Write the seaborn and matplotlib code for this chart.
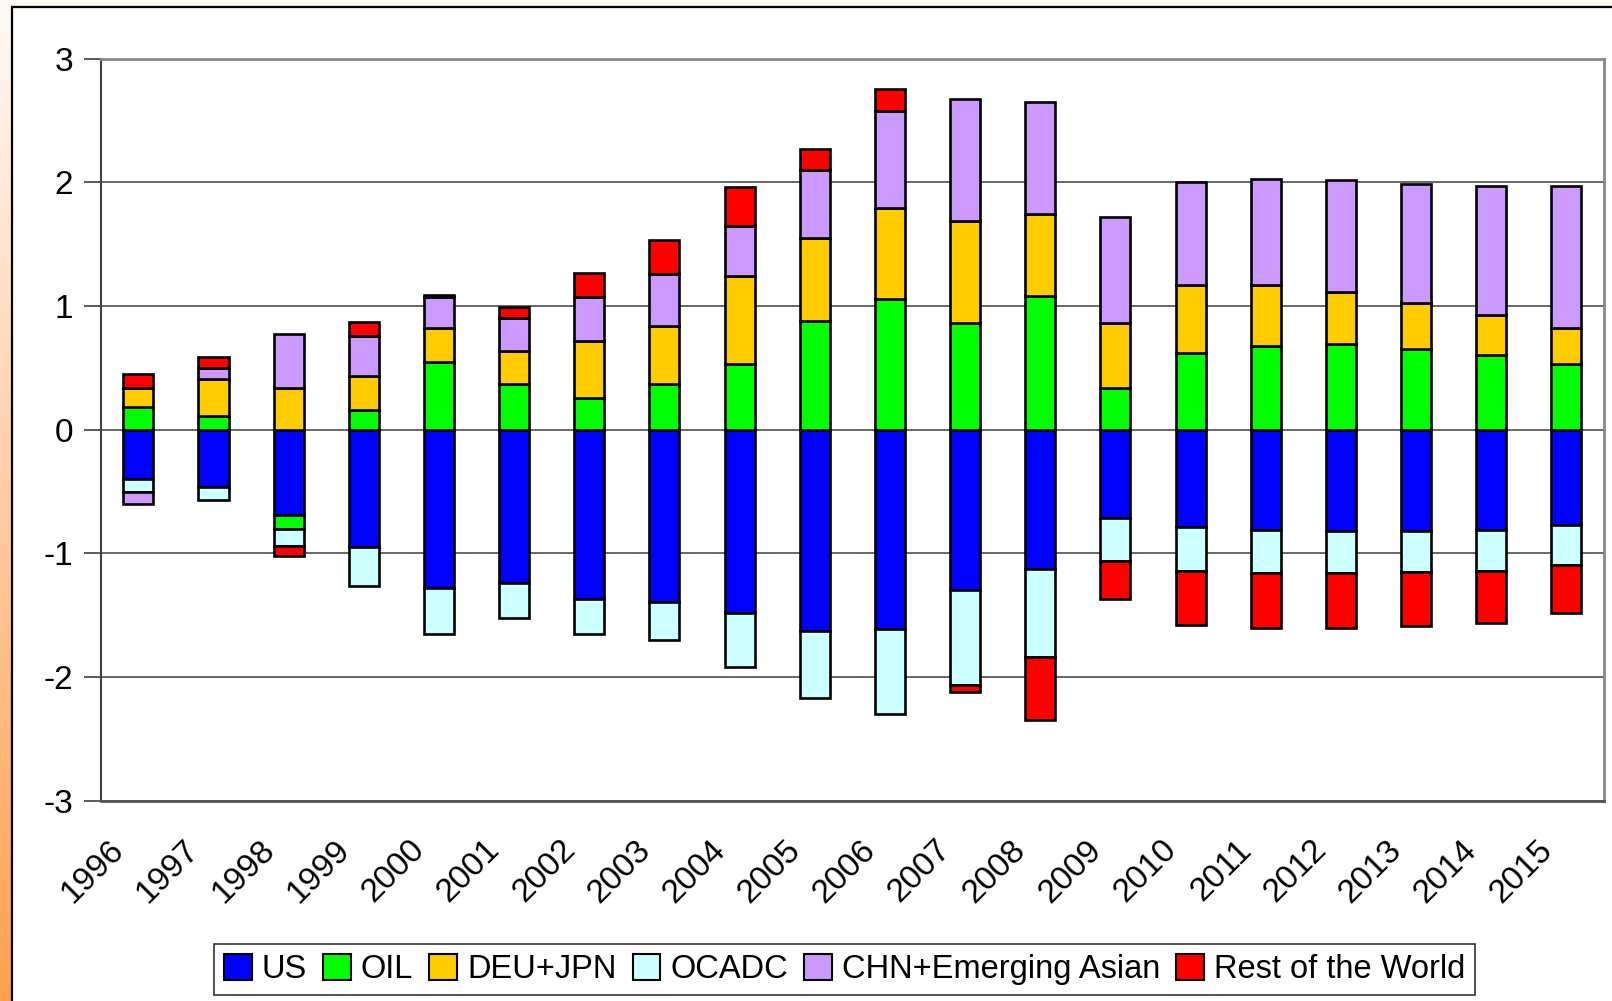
import matplotlib.pyplot as plt
import matplotlib.transforms as mtransforms
import numpy as np
import seaborn as sns
import pandas as pd
from matplotlib.patches import Rectangle, Patch


years = [str(y) for y in range(1996, 2016)]
names = ['US', 'OIL', 'DEU+JPN', 'OCADC', 'CHN+Emerging Asian', 'Rest of the World']
colors = ['#0000FF', '#00FF00', '#FFCC00', '#CCFFFF', '#CC99FF', '#FF0000']

# values (one per year, sign = side of zero)
us = [-0.40, -0.46, -0.69, -0.95, -1.28, -1.24, -1.37, -1.39, -1.48, -1.63,
      -1.61, -1.30, -1.13, -0.71, -0.79, -0.81, -0.82, -0.82, -0.81, -0.77]
oil = [0.18, 0.11, -0.11, 0.16, 0.55, 0.37, 0.26, 0.37, 0.53, 0.88,
       1.06, 0.86, 1.08, 0.34, 0.62, 0.68, 0.69, 0.65, 0.60, 0.53]
deu_jpn = [0.16, 0.30, 0.34, 0.27, 0.27, 0.27, 0.46, 0.47, 0.71, 0.67,
           0.73, 0.83, 0.66, 0.52, 0.55, 0.49, 0.42, 0.37, 0.33, 0.29]
ocadc = [-0.10, -0.11, -0.14, -0.31, -0.37, -0.28, -0.28, -0.31, -0.44, -0.54,
         -0.69, -0.76, -0.71, -0.35, -0.35, -0.35, -0.34, -0.33, -0.33, -0.32]
chn_asia = [-0.10, 0.09, 0.43, 0.33, 0.25, 0.26, 0.35, 0.42, 0.41, 0.55,
            0.79, 0.98, 0.91, 0.86, 0.83, 0.86, 0.91, 0.97, 1.04, 1.15]
rest_world = [0.11, 0.09, -0.08, 0.11, 0.02, 0.09, 0.20, 0.27, 0.31, 0.17,
              0.17, -0.06, -0.51, -0.31, -0.44, -0.44, -0.44, -0.44, -0.42, -0.39]

all_series = [us, oil, deu_jpn, ocadc, chn_asia, rest_world]

sns.set_style('white')
plt.rcParams['font.family'] = ['Liberation Sans', 'DejaVu Sans']
plt.rcParams['axes.unicode_minus'] = False
plt.rcParams['text.color'] = 'black'

fig = plt.figure(figsize=(16.12, 10.01), dpi=100)

# orange gradient background + white chart frame
bg = fig.add_axes([0, 0, 1, 1], zorder=-10)
grad = np.linspace(0, 1, 256)[:, None, None]
top_c = np.array([255, 250, 246]) / 255
bot_c = np.array([255, 160, 80]) / 255
bg.imshow(top_c + (bot_c - top_c) * grad, aspect='auto', extent=[0, 1, 0, 1])
bg.add_patch(Rectangle((12 / 1612, -0.05), 1.1, 1.043, facecolor='white',
                       edgecolor='black', lw=1.6, clip_on=False))
bg.set_xlim(0, 1)
bg.set_ylim(0, 1)
bg.axis('off')

ax = fig.add_axes([0.0625, 0.2, 0.9325, 0.7415])
ax.set_facecolor('white')

pos_base = np.zeros(len(years))
neg_base = np.zeros(len(years))
for vals, c in zip(all_series, colors):
    v = np.array(vals)
    bottom = np.where(v >= 0, pos_base, neg_base)
    df = pd.DataFrame({'year': years, 'value': v})
    sns.barplot(data=df, x='year', y='value', order=years, width=0.4,
                bottom=bottom, color=c, saturation=1, errorbar=None,
                edgecolor='black', linewidth=1.9, ax=ax, zorder=3)
    pos_base = pos_base + np.where(v >= 0, v, 0)
    neg_base = neg_base + np.where(v < 0, v, 0)

ax.set_ylim(-3, 3)
ax.set_xlim(-0.5, len(years) - 0.5)
ax.set_yticks(range(-3, 4))
ax.set_yticklabels([str(t) for t in range(-3, 4)])
ax.yaxis.grid(True, color='#404040', lw=1.1)
ax.set_axisbelow(True)
ax.set_xlabel('')
ax.set_ylabel('')

ax.set_xticks(range(len(years)))
ax.set_xticklabels(years, rotation=45, ha='right', va='top', rotation_mode='anchor')
ax.set_xticks(np.arange(-0.5, len(years)), minor=True)
ax.tick_params(axis='x', which='major', length=0, pad=24, labelsize=24, labelcolor='black')
ax.tick_params(axis='x', which='minor', length=11, width=1.2, color='#404040', direction='out')
ax.tick_params(axis='y', length=12, width=1.2, color='#404040', pad=8, labelsize=24,
               labelcolor='black', direction='out', left=True)

shift = mtransforms.ScaledTranslation(-0.30, 0, fig.dpi_scale_trans)
for label in ax.get_xticklabels():
    label.set_transform(label.get_transform() + shift)

for side in ['top', 'right']:
    ax.spines[side].set_color('#888888')
    ax.spines[side].set_linewidth(2)
ax.spines['left'].set_color('#404040')
ax.spines['left'].set_linewidth(1.5)
ax.spines['bottom'].set_color('#555555')
ax.spines['bottom'].set_linewidth(2)

handles = [Patch(facecolor=c, edgecolor='black', lw=1.5) for c in colors]
legend = fig.legend(handles, names, loc='center', bbox_to_anchor=(0.524, 0.0315),
                    ncol=6, frameon=True, fancybox=False, edgecolor='black',
                    fontsize=23.5, handlelength=0.85, handleheight=0.85,
                    handletextpad=0.3, columnspacing=0.5, borderpad=0.3)
legend.get_frame().set_linewidth(1.2)
for text in legend.get_texts():
    text.set_color('black')

plt.savefig('out.png', dpi=100)
